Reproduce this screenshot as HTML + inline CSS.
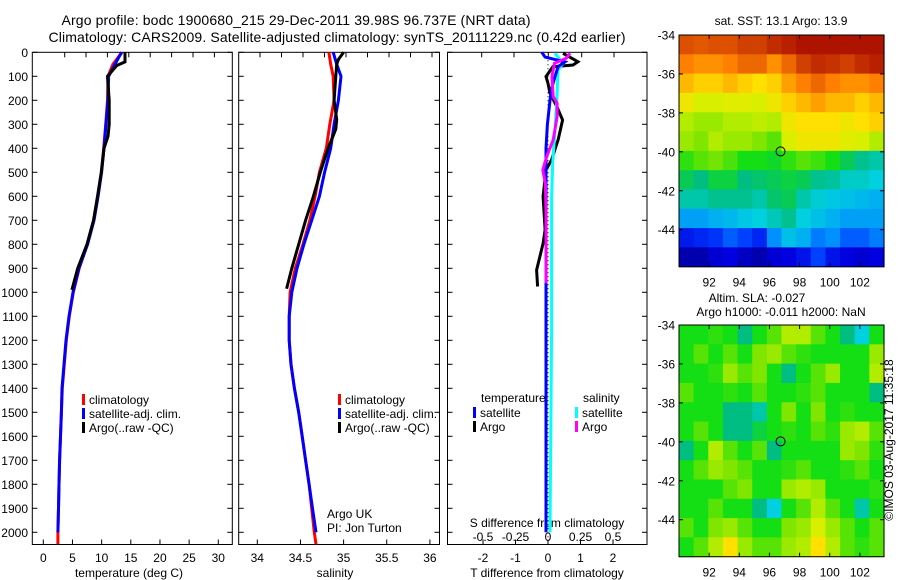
<!DOCTYPE html>
<html><head><meta charset="utf-8"><style>
html,body{margin:0;padding:0;background:#fff;}
svg{display:block;font-family:"Liberation Sans",sans-serif;}
text{fill:#000;}
</style></head><body>
<svg id="c" width="900" height="580" viewBox="0 0 900 580" xmlns="http://www.w3.org/2000/svg">
<text x="296" y="25" font-size="14" text-anchor="middle" textLength="469">Argo profile: bodc 1900680_215 29-Dec-2011 39.98S 96.737E (NRT data)</text>
<text x="337" y="42" font-size="14" text-anchor="middle" textLength="577">Climatology: CARS2009. Satellite-adjusted climatology: synTS_20111229.nc (0.42d earlier)</text>
<g id="g"></g>
</svg>
<script>
// ---------- data ----------
const depthTicks=[0,100,200,300,400,500,600,700,800,900,1000,1100,1200,1300,1400,1500,1600,1700,1800,1900,2000];
const tempTicks=[0,5,10,15,20,25,30];
const salTicks=[34,34.5,35,35.5,36];
const salTickLabels=["34","34.5","35","35.5","36"];
const tdTicks=[-2,-1,0,1,2];
const sdTicks=[-0.5,-0.25,0,0.25,0.5];
const sdTickLabels=["-0.5","-0.25","0","0.25","0.5"];
const lonTicks=[92,94,96,98,100,102];
const latTicks=[-34,-36,-38,-40,-42,-44];

const climDepth=[0,50,100,200,300,400,500,600,700,800,900,1000,1100,1200,1300,1400,1500,1600,1700,1800,1900,2000,2050];
const tempClim=[13.5,11.95,11.1,11.0,10.7,10.35,9.95,9.35,8.65,7.55,6.15,5.15,4.45,3.95,3.6,3.25,3.1,2.95,2.8,2.7,2.6,2.5,2.5];
const tempSat=[13.4,12.3,11.2,11.1,10.75,10.4,10.0,9.4,8.7,7.6,6.1,5.1,4.4,3.9,3.55,3.2,3.1,2.95,2.8,2.7,2.6,2.5];
const argoDepth=[0,40,55,100,200,300,350,400,500,600,700,800,900,990];
const tempArgo=[14.0,14.0,12.6,11.0,11.3,11.3,11.1,10.4,9.95,9.3,8.6,7.5,5.9,4.9];

const salClim=[34.83,34.85,34.88,34.89,34.84,34.80,34.72,34.67,34.61,34.53,34.44,34.38,34.37,34.37,34.39,34.43,34.48,34.52,34.56,34.60,34.63,34.66,34.68];
const salSat=[34.88,34.92,34.97,34.94,34.89,34.85,34.78,34.72,34.63,34.54,34.46,34.40,34.37,34.37,34.39,34.43,34.48,34.52,34.56,34.60,34.64,34.68];
const salArgoDepth=[0,30,50,100,200,280,320,400,500,600,700,800,900,985];
const salArgo=[35.00,34.94,34.92,34.91,34.89,34.92,34.91,34.82,34.73,34.65,34.56,34.48,34.40,34.34];

const tdSatDepth=[0,20,40,60,100,150,200,300,400,1000,2000];
const tdSat=[-0.19,-0.09,0.52,0.31,0.22,0.11,0.06,-0.02,-0.06,-0.06,-0.06];
const tdArgoDepth=[4,39,53,60,101,129,171,226,282,365,448,490,601,740,796,851,907,976];
const tdArgo=[0.46,0.92,0.77,0.15,-0.06,0,0.06,0.27,0.45,0.31,0.11,-0.06,-0.15,-0.09,-0.15,-0.25,-0.35,-0.32];
const sdArgoDepth=[4,25,46,101,185,212,268,365,434,490,546,671,810,962];
const sdArgo=[0.17,0.14,0.05,0.03,0.04,0.07,0.07,0.04,-0.01,-0.04,-0.02,-0.015,-0.015,-0.015];
const sdSatDepth=[4,46,74,185,323,462,601,1157,2000];
const sdSat=[0.054,0.115,0.077,0.069,0.054,0.036,0.028,0.028,0.015];

const sstGrid=[
[.88,.87,.88,.88,.9,.9,.93,.95,.97,.97,.97,.97,.97,.97],
[.82,.8,.8,.82,.85,.85,.8,.85,.9,.93,.92,.9,.93,.95],
[.75,.72,.72,.75,.72,.7,.72,.78,.82,.85,.82,.8,.8,.82],
[.68,.65,.65,.66,.66,.65,.68,.72,.75,.78,.75,.75,.72,.75],
[.62,.6,.6,.62,.62,.63,.62,.68,.7,.7,.7,.68,.7,.72],
[.6,.58,.62,.6,.6,.58,.55,.65,.68,.68,.68,.66,.65,.62],
[.52,.55,.57,.54,.5,.5,.49,.52,.55,.53,.5,.47,.44,.42],
[.47,.45,.48,.48,.45,.46,.47,.48,.47,.44,.43,.4,.4,.38],
[.42,.42,.44,.44,.44,.42,.46,.47,.42,.39,.37,.36,.35,.34],
[.32,.32,.34,.35,.37,.38,.41,.44,.38,.36,.34,.32,.32,.32],
[.16,.18,.2,.25,.22,.18,.3,.36,.34,.28,.3,.25,.25,.28],
[.05,.05,.1,.12,.08,.05,.1,.12,.15,.22,.15,.12,.1,.12]];
const slaGrid=[
[.5,.5,.52,.5,.45,.5,.55,.62,.62,.55,.5,.45,.38,.5],
[.5,.55,.5,.55,.5,.58,.6,.55,.52,.5,.5,.5,.5,.6],
[.5,.5,.52,.6,.55,.58,.5,.45,.5,.55,.6,.5,.5,.62],
[.55,.5,.5,.52,.5,.55,.5,.5,.52,.55,.5,.5,.5,.45],
[.5,.5,.5,.45,.45,.42,.5,.58,.5,.58,.5,.52,.5,.5],
[.5,.55,.5,.45,.45,.48,.5,.52,.5,.55,.52,.6,.62,.55],
[.45,.5,.62,.55,.5,.55,.45,.5,.5,.5,.5,.6,.58,.52],
[.5,.55,.6,.58,.55,.5,.5,.52,.55,.5,.5,.52,.55,.5],
[.5,.5,.5,.55,.58,.5,.5,.6,.62,.6,.5,.5,.5,.52],
[.5,.5,.55,.5,.5,.45,.38,.5,.55,.62,.55,.5,.42,.5],
[.55,.5,.58,.6,.55,.5,.5,.58,.6,.65,.6,.55,.5,.55],
[.5,.55,.62,.7,.6,.55,.55,.6,.62,.7,.62,.55,.52,.55]];
const argoLon=96.737, argoLat=-39.98;

// ---------- helpers ----------
const NS="http://www.w3.org/2000/svg";
const G=document.getElementById('g');
function mk(tag,attrs,parent){const e=document.createElementNS(NS,tag);for(const k in attrs)e.setAttribute(k,attrs[k]);(parent||G).appendChild(e);return e;}
function txt(x,y,s,size,anchor,parent){const t=mk('text',{x:x,y:y,'font-size':size||12,'text-anchor':anchor||'middle'},parent);t.textContent=s;return t;}

const yD=d=>52.3+0.24*d;
const xT=t=>43.3+5.833*t;
const xS=s=>257.3+86.3*(s-34);
const xTD=v=>548+32.5*v;
const xSD=v=>548+130*v;
const TOP=52.3, BOT=544.5;
const FS=12;

function panel(name,x0,x1,ticksTop){
  const g=mk('g',{});
  
  
  mk('rect',{x:x0,y:TOP,width:x1-x0,height:BOT-TOP,fill:'none',stroke:'#000','stroke-width':1},g);
  depthTicks.forEach(d=>{
    const y=yD(d);
    mk('line',{x1:x0,x2:x0+5,y1:y,y2:y,stroke:'#000'},g);
    mk('line',{x1:x1-5,x2:x1,y1:y,y2:y,stroke:'#000'},g);
  });
  ticksTop.forEach(x=>mk('line',{x1:x,x2:x,y1:TOP,y2:TOP+5,stroke:'#000'},g));
  return g;
}
function line(g,name,xs,ds,fx,color){
  const pts=xs.map((v,i)=>fx(v).toFixed(1)+','+yD(ds[i]).toFixed(1)).join(' ');
  const p=mk('polyline',{points:pts,fill:'none',stroke:color,'stroke-width':3,'stroke-linejoin':'miter'},g);
  
  
  return p;
}

// depth labels
const dl=mk('g',{});


depthTicks.forEach(d=>txt(28,yD(d)+4.5,String(d),FS,'end',dl));

// ---- panel 1 temperature ----
const p1=panel('temperature-panel',32.3,232.3,[64.7,86,107.4,128.8,150.2,171.6,193,214.4]);
tempTicks.forEach(t=>{mk('line',{x1:xT(t),x2:xT(t),y1:BOT,y2:BOT-5,stroke:'#000'},p1);txt(xT(t),562,String(t),FS,'middle',p1);});
txt(129,577,'temperature (deg C)',FS,'middle',p1);
line(p1,'temp-climatology-line',tempClim,climDepth,xT,'#ff0000');
line(p1,'temp-satellite-line',tempSat,climDepth,xT,'#0000ff');
line(p1,'temp-argo-line',tempArgo,argoDepth,xT,'#000000');

// ---- panel 2 salinity ----
const p2=panel('salinity-panel',238.7,439.5,[260,281.5,303,324.5,346,367.5,389,410.5,432]);
salTicks.forEach((s,i)=>{mk('line',{x1:xS(s),x2:xS(s),y1:BOT,y2:BOT-5,stroke:'#000'},p2);txt(xS(s),562,salTickLabels[i],FS,'middle',p2);});
txt(335,577,'salinity',FS,'middle',p2);
line(p2,'sal-climatology-line',salClim,climDepth,xS,'#ff0000');
line(p2,'sal-satellite-line',salSat,climDepth,xS,'#0000ff');
line(p2,'sal-argo-line',salArgo,salArgoDepth,xS,'#000000');
txt(327,518,'Argo UK',FS,'start',p2);
txt(327,532,'PI: Jon Turton',FS,'start',p2);

// legends
function legend(g,x,y,items,name){
  const lg=mk('g',{},g);
  
  
  items.forEach((it,i)=>{
    mk('rect',{x:x,y:y+i*14-9,width:3,height:11,fill:it[1]},lg);
    txt(x+7,y+i*14+1,it[0],FS,'start',lg);
  });
}
legend(p1,82,403,[['climatology','#ff0000'],['satellite-adj. clim.','#0000ff'],['Argo(..raw -QC)','#000000']],'temperature-legend');
legend(p2,338,403,[['climatology','#ff0000'],['satellite-adj. clim.','#0000ff'],['Argo(..raw -QC)','#000000']],'salinity-legend');

// ---- panel 3 differences ----
const p3=panel('difference-panel',447.5,647,[481.7,514,548.3,581.7,614]);
mk('line',{x1:548,x2:548,y1:TOP,y2:BOT,stroke:'#000','stroke-dasharray':'1,3'},p3);
sdTicks.forEach((s,i)=>{mk('line',{x1:xSD(s),x2:xSD(s),y1:BOT,y2:BOT-5,stroke:'#000'},p3);txt(xSD(s),541,sdTickLabels[i],FS,'middle',p3);});
tdTicks.forEach(t=>txt(xTD(t),562,String(t),FS,'middle',p3));
txt(547,527,'S difference from climatology',FS,'middle',p3);
txt(547,577,'T difference from climatology',FS,'middle',p3);
line(p3,'tdiff-argo-line',tdArgo,tdArgoDepth,xTD,'#000000');
line(p3,'sdiff-satellite-line',sdSat,sdSatDepth,xSD,'#00ffff');
line(p3,'tdiff-satellite-line',tdSat,tdSatDepth,xTD,'#0000ff');
line(p3,'sdiff-argo-line',sdArgo,sdArgoDepth,xSD,'#ff00ff');
txt(481,402,'temperature',FS,'start',p3);
txt(583,402,'salinity',FS,'start',p3);
legend(p3,473,416,[['satellite','#0000ff'],['Argo','#000000']],'tdiff-legend');
legend(p3,575,416,[['satellite','#00ffff'],['Argo','#ff00ff']],'sdiff-legend');

// ---------- maps ----------
const stops=[[0,[0,0,138]],[.12,[0,0,224]],[.22,[0,64,255]],[.3,[0,144,255]],[.38,[0,208,224]],[.45,[0,190,130]],[.5,[20,222,20]],[.58,[128,230,0]],[.65,[216,240,0]],[.7,[255,224,0]],[.76,[255,176,0]],[.82,[255,128,0]],[.9,[208,64,0]],[1,[160,0,0]]];
function cmap(v){
  for(let i=1;i<stops.length;i++){if(v<=stops[i][0]){const a=stops[i-1],b=stops[i],f=(v-a[0])/(b[0]-a[0]);
    return 'rgb('+a[1].map((c,k)=>Math.round(c+f*(b[1][k]-c))).join(',')+')';}}
  return 'rgb(160,0,0)';
}
function map(name,grid,y0,y1){
  const x0=679,x1=884,lon0=90,lon1=103.6,lat0=-34;
  const pxLat=(y1-y0)/11.9;
  const xL=l=>x0+(l-lon0)*(x1-x0)/(lon1-lon0);
  const yL=l=>y0+(lat0-l)*pxLat;
  const g=mk('g',{});
  
  
  const nr=grid.length,nc=grid[0].length,cw=(x1-x0)/nc,ch=(y1-y0)/nr;
  grid.forEach((row,r)=>row.forEach((v,c)=>{
    mk('rect',{x:(x0+c*cw).toFixed(2),y:(y0+r*ch).toFixed(2),width:(cw+0.6).toFixed(2),height:(ch+0.6).toFixed(2),fill:cmap(v)},g);
  }));
  mk('rect',{x:x0,y:y0,width:x1-x0,height:y1-y0,fill:'none',stroke:'#000'},g);
  lonTicks.forEach(l=>{const x=xL(l);mk('line',{x1:x,x2:x,y1:y1,y2:y1-4,stroke:'#000'},g);mk('line',{x1:x,x2:x,y1:y0,y2:y0+4,stroke:'#000'},g);txt(x,y1+20,String(l),FS,'middle',g);});
  latTicks.forEach(l=>{const y=yL(l);mk('line',{x1:x0,x2:x0+4,y1:y,y2:y,stroke:'#000'},g);mk('line',{x1:x1-4,x2:x1,y1:y,y2:y,stroke:'#000'},g);txt(x0-4,y+4.5,String(l),FS,'end',g);});
  const c=mk('circle',{cx:xL(argoLon),cy:yL(argoLat),r:4.5,fill:'none',stroke:'#000','stroke-width':1},g);
  
  
  return g;
}
map('sst-map',sstGrid,35,266.7);
map('sla-map',slaGrid,325,556.7);
txt(781,25,'sat. SST: 13.1  Argo: 13.9',FS,'middle');
txt(757,302,'Altim. SLA: -0.027',FS,'middle');
txt(781,316,'Argo h1000: -0.011 h2000: NaN',FS,'middle');
const cp=txt(0,0,'\u00A9IMOS 03-Aug-2017 11:35:18',FS,'middle');
cp.setAttribute('transform','translate(893,440) rotate(-90)');

</script>
</body></html>
